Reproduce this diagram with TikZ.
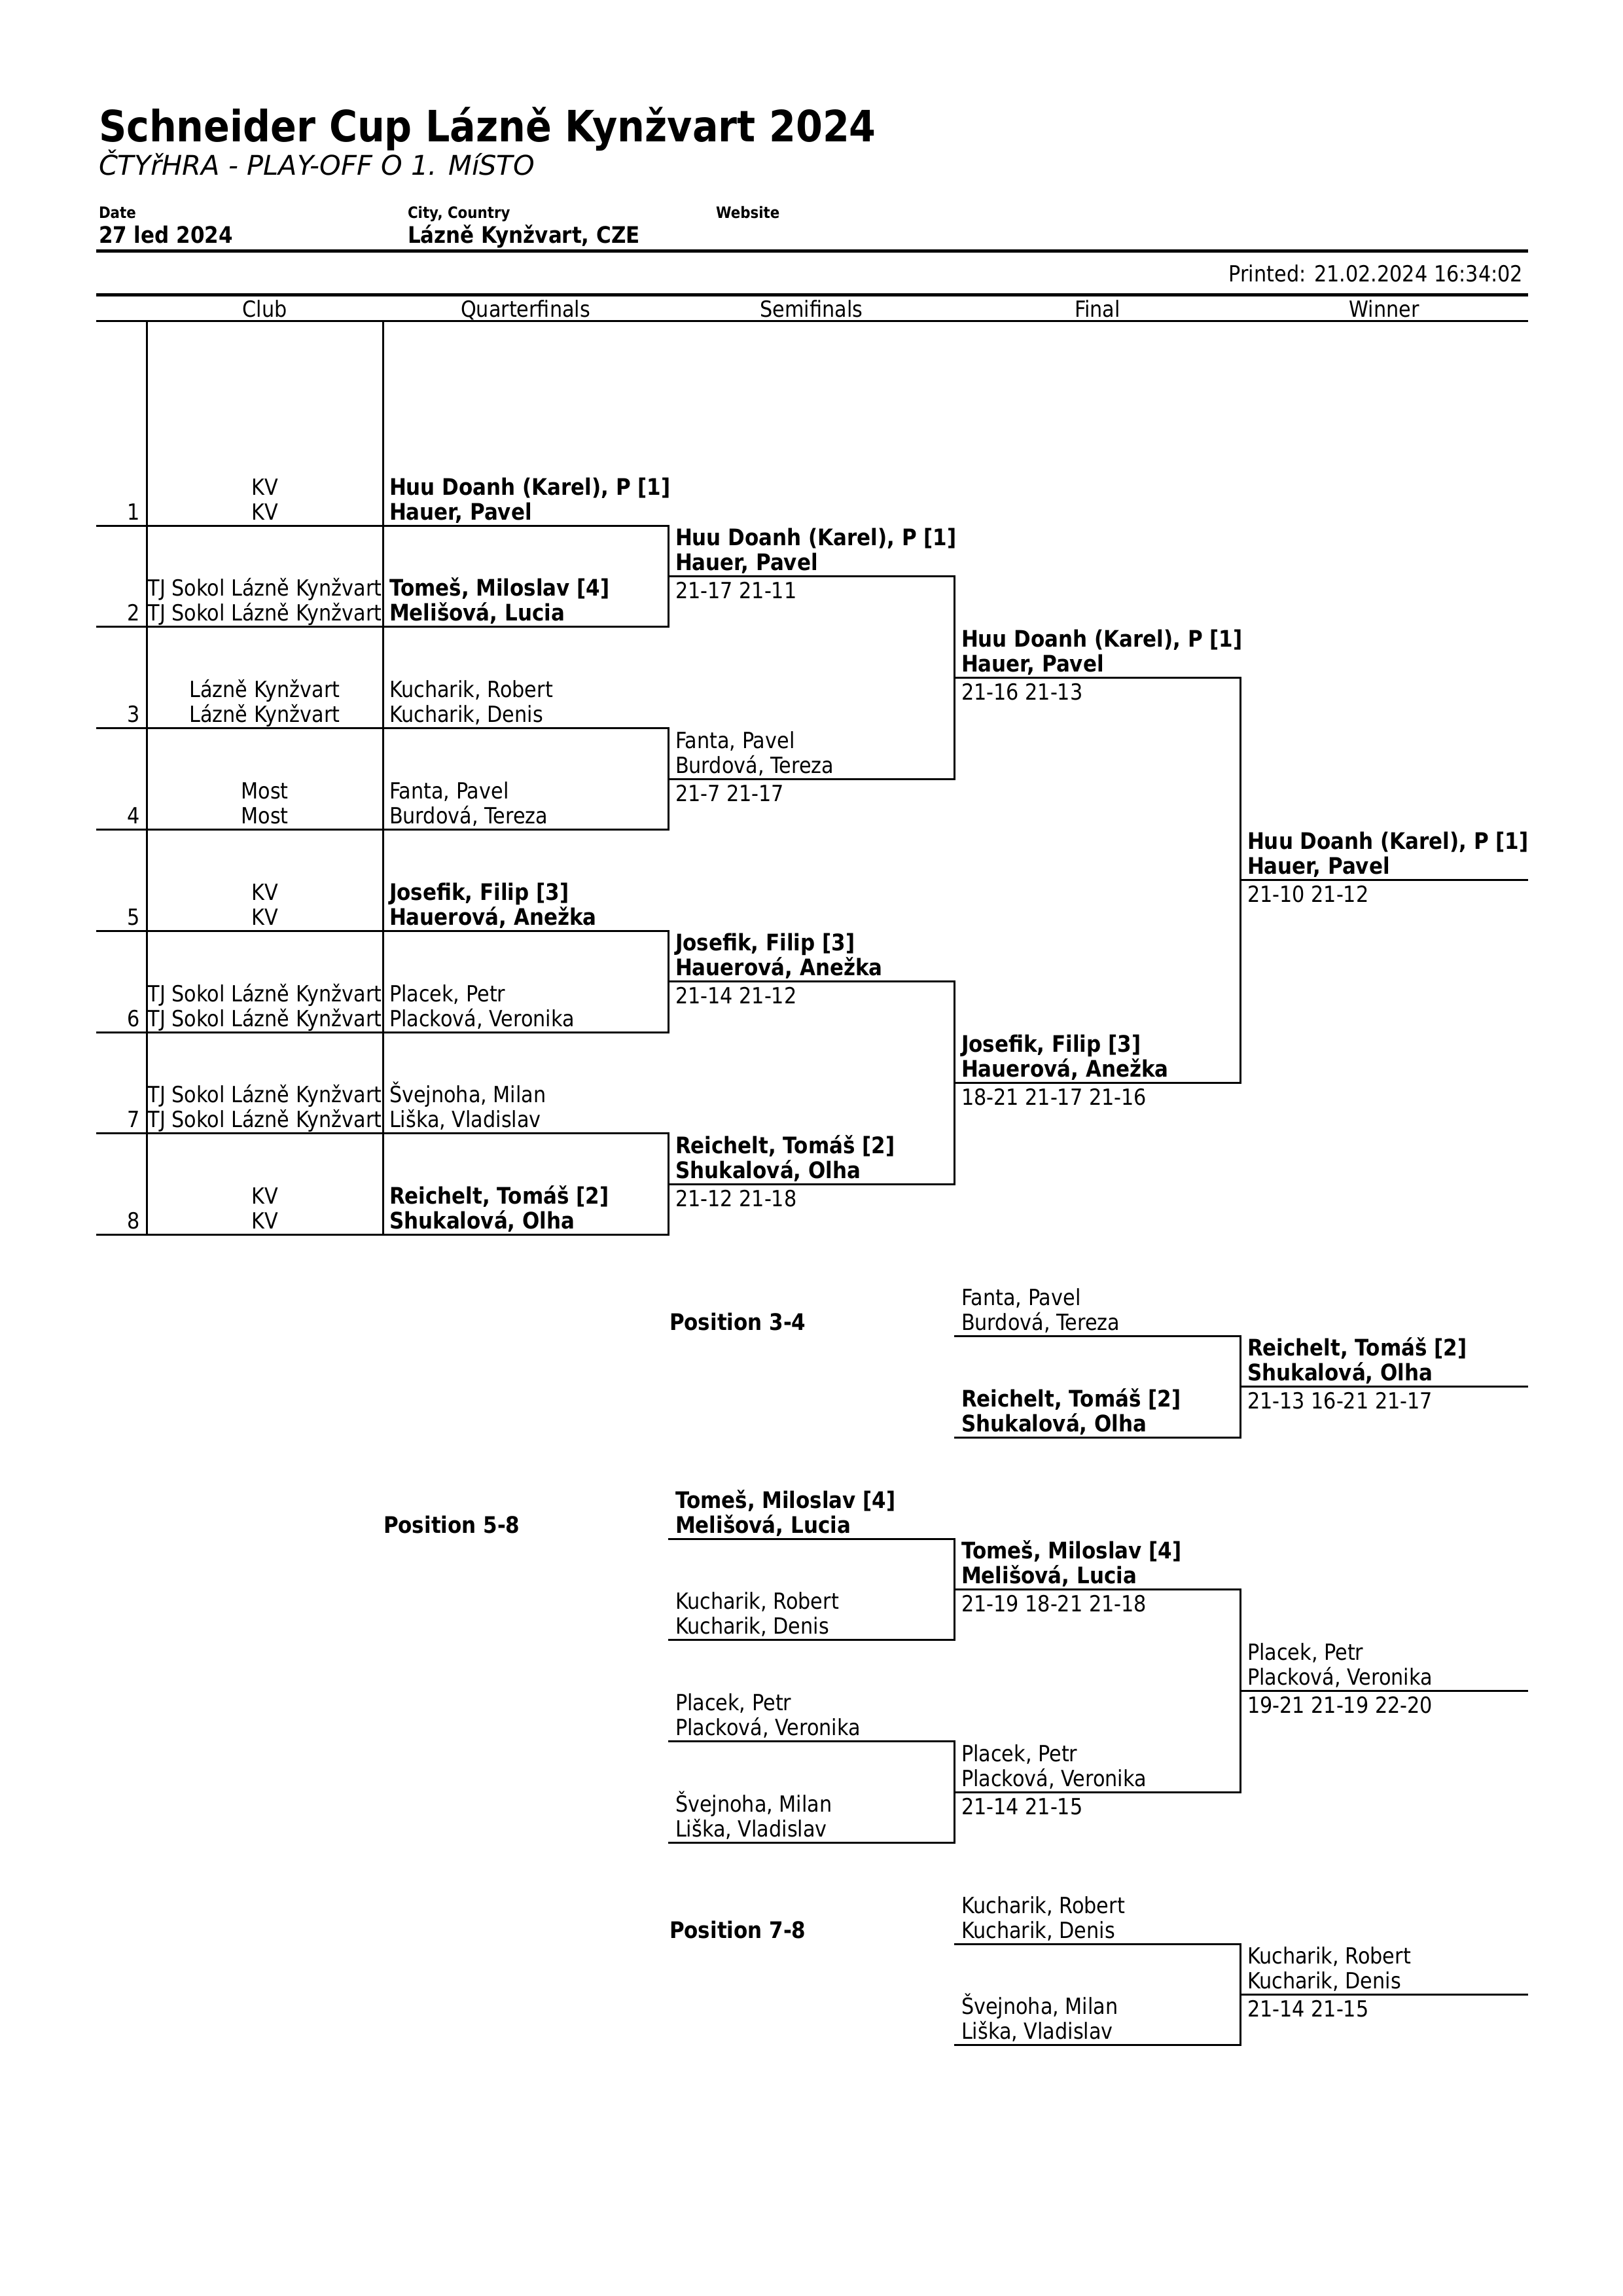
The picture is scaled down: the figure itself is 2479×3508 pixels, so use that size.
\documentclass[tikz,border=0pt]{standalone}
\usepackage{fontspec}
\setmainfont[FakeStretch=0.89]{DejaVu Sans}
\newfontfamily\subfont{DejaVu Sans}
\newcommand\pairtxt[6]{% prefix, x, liney, style, line1, line2
  \node[#4, anchor=base west] (#1a) at (#2,#3-47) {#5};
  \node[#4, anchor=base west] (#1b) at (#2,#3-9) {#6};}
\newcommand\scoretxt[4]{% name, x, liney, text
  \node[txt, anchor=base west] (#1) at (#2,#3+34) {#4};}
\newcommand\entryrow[6]{% idx, liney, club, style, n1, n2
  \node[txt, anchor=base east] (num#1) at (214,#2-9) {#1};
  \node[txt, anchor=base] (clubA#1) at (404.5,#2-47) {#3};
  \node[txt, anchor=base] (clubB#1) at (404.5,#2-9) {#3};
  \pairtxt{qf#1}{595}{#2}{#4}{#5}{#6}}
\begin{document}
\begin{tikzpicture}[x=1pt,y=-1pt,
  txt/.style={font=\fontsize{34}{40}\selectfont, inner sep=0pt, outer sep=0pt},
  btxt/.style={txt, font=\fontsize{34.8}{40}\selectfont\bfseries},
  lbl/.style={inner sep=0pt, outer sep=0pt, font=\fontsize{24}{28}\selectfont\bfseries},
  rule/.style={line width=3pt},
  heavyrule/.style={line width=5pt}]
\useasboundingbox (0,0) rectangle (2479,3508);
\fill[white] (0,0) rectangle (2479,3508);

% ---------- header ----------
\node[inner sep=0pt, outer sep=0pt, anchor=base west, font=\fontsize{66}{72}\selectfont\bfseries] (title) at (151,217) {Schneider Cup Lázně Kynžvart 2024};
\node[inner sep=0pt, outer sep=0pt, anchor=base west, font=\subfont\itshape\fontsize{41.5}{46}\selectfont] (subtitle) at (151,268) {ČTYřHRA - PLAY-OFF O 1. MíSTO};
\node[lbl, anchor=base west] (datelbl) at (151,333) {Date};
\node[lbl, anchor=base west] (citylbl) at (623,333) {City, Country};
\node[lbl, anchor=base west] (weblbl) at (1094,333) {Website};
\node[btxt, anchor=base west] (dateval) at (151,371) {27 led 2024};
\node[btxt, anchor=base west] (cityval) at (623,371) {Lázně Kynžvart, CZE};
\draw[heavyrule] (147,383) -- (2335,383);
\node[txt, anchor=base east] (printed) at (2327,430) {Printed: 21.02.2024 16:34:02};
\draw[heavyrule] (147,450) -- (2335,450);
\node[txt, anchor=base] (hclub) at (404.5,484) {Club};
\node[txt, anchor=base] (hqf) at (803,484) {Quarterfinals};
\node[txt, anchor=base] (hsf) at (1240,484) {Semifinals};
\node[txt, anchor=base] (hf) at (1677,484) {Final};
\node[txt, anchor=base] (hw) at (2115,484) {Winner};
\draw[rule] (147,490) -- (2335,490);

% ---------- main bracket lines ----------
\draw[rule] (224,490) -- (224,1886.6);
\draw[rule] (585,490) -- (585,1886.6);
\draw[rule] (147,803) -- (1021,803) -- (1021,957.8) -- (147,957.8);
\draw[rule] (147,1112.6) -- (1021,1112.6) -- (1021,1267.4) -- (147,1267.4);
\draw[rule] (147,1422.2) -- (1021,1422.2) -- (1021,1577) -- (147,1577);
\draw[rule] (147,1731.8) -- (1021,1731.8) -- (1021,1886.6) -- (147,1886.6);
\draw[rule] (1021,880.4) -- (1458,880.4) -- (1458,1190) -- (1021,1190);
\draw[rule] (1021,1499.6) -- (1458,1499.6) -- (1458,1809.2) -- (1021,1809.2);
\draw[rule] (1458,1035.2) -- (1895,1035.2) -- (1895,1654.4) -- (1458,1654.4);
\draw[rule] (1895,1344.8) -- (2335,1344.8);

% ---------- main bracket texts ----------
\entryrow{1}{803}{KV}{btxt}{Huu Doanh (Karel), P [1]}{Hauer, Pavel}
\entryrow{2}{957.8}{TJ Sokol Lázně Kynžvart}{btxt}{Tomeš, Miloslav [4]}{Melišová, Lucia}
\entryrow{3}{1112.6}{Lázně Kynžvart}{txt}{Kucharik, Robert}{Kucharik, Denis}
\entryrow{4}{1267.4}{Most}{txt}{Fanta, Pavel}{Burdová, Tereza}
\entryrow{5}{1422.2}{KV}{btxt}{Josefik, Filip [3]}{Hauerová, Anežka}
\entryrow{6}{1577}{TJ Sokol Lázně Kynžvart}{txt}{Placek, Petr}{Placková, Veronika}
\entryrow{7}{1731.8}{TJ Sokol Lázně Kynžvart}{txt}{Švejnoha, Milan}{Liška, Vladislav}
\entryrow{8}{1886.6}{KV}{btxt}{Reichelt, Tomáš [2]}{Shukalová, Olha}

\pairtxt{sf1}{1032}{880.4}{btxt}{Huu Doanh (Karel), P [1]}{Hauer, Pavel}
\scoretxt{sf1s}{1032}{880.4}{21-17 21-11}
\pairtxt{sf2}{1032}{1190}{txt}{Fanta, Pavel}{Burdová, Tereza}
\scoretxt{sf2s}{1032}{1190}{21-7 21-17}
\pairtxt{sf3}{1032}{1499.6}{btxt}{Josefik, Filip [3]}{Hauerová, Anežka}
\scoretxt{sf3s}{1032}{1499.6}{21-14 21-12}
\pairtxt{sf4}{1032}{1809.2}{btxt}{Reichelt, Tomáš [2]}{Shukalová, Olha}
\scoretxt{sf4s}{1032}{1809.2}{21-12 21-18}

\pairtxt{f1}{1469}{1035.2}{btxt}{Huu Doanh (Karel), P [1]}{Hauer, Pavel}
\scoretxt{f1s}{1469}{1035.2}{21-16 21-13}
\pairtxt{f2}{1469}{1654.4}{btxt}{Josefik, Filip [3]}{Hauerová, Anežka}
\scoretxt{f2s}{1469}{1654.4}{18-21 21-17 21-16}

\pairtxt{w}{1906}{1344.8}{btxt}{Huu Doanh (Karel), P [1]}{Hauer, Pavel}
\scoretxt{ws}{1906}{1344.8}{21-10 21-12}

% ---------- Position 3-4 ----------
\node[btxt, anchor=base west] (pos34) at (1023,2032.4) {Position 3-4};
\draw[rule] (1458,2041.4) -- (1895,2041.4) -- (1895,2196.2) -- (1458,2196.2);
\draw[rule] (1895,2118.8) -- (2335,2118.8);
\pairtxt{pa1}{1469}{2041.4}{txt}{Fanta, Pavel}{Burdová, Tereza}
\pairtxt{pa2}{1469}{2196.2}{btxt}{Reichelt, Tomáš [2]}{Shukalová, Olha}
\pairtxt{paw}{1906}{2118.8}{btxt}{Reichelt, Tomáš [2]}{Shukalová, Olha}
\scoretxt{paws}{1906}{2118.8}{21-13 16-21 21-17}

% ---------- Position 5-8 ----------
\node[btxt, anchor=base west] (pos58) at (586,2342) {Position 5-8};
\draw[rule] (1021,2351) -- (1458,2351) -- (1458,2505.8) -- (1021,2505.8);
\draw[rule] (1021,2660.6) -- (1458,2660.6) -- (1458,2815.4) -- (1021,2815.4);
\draw[rule] (1458,2428.4) -- (1895,2428.4) -- (1895,2738) -- (1458,2738);
\draw[rule] (1895,2583.2) -- (2335,2583.2);
\pairtxt{pb1}{1032}{2351}{btxt}{Tomeš, Miloslav [4]}{Melišová, Lucia}
\pairtxt{pb2}{1032}{2505.8}{txt}{Kucharik, Robert}{Kucharik, Denis}
\pairtxt{pb3}{1032}{2660.6}{txt}{Placek, Petr}{Placková, Veronika}
\pairtxt{pb4}{1032}{2815.4}{txt}{Švejnoha, Milan}{Liška, Vladislav}
\pairtxt{pbs1}{1469}{2428.4}{btxt}{Tomeš, Miloslav [4]}{Melišová, Lucia}
\scoretxt{pbs1s}{1469}{2428.4}{21-19 18-21 21-18}
\pairtxt{pbs2}{1469}{2738}{txt}{Placek, Petr}{Placková, Veronika}
\scoretxt{pbs2s}{1469}{2738}{21-14 21-15}
\pairtxt{pbf}{1906}{2583.2}{txt}{Placek, Petr}{Placková, Veronika}
\scoretxt{pbfs}{1906}{2583.2}{19-21 21-19 22-20}

% ---------- Position 7-8 ----------
\node[btxt, anchor=base west] (pos78) at (1023,2961) {Position 7-8};
\draw[rule] (1458,2970) -- (1895,2970) -- (1895,3124.8) -- (1458,3124.8);
\draw[rule] (1895,3047.4) -- (2335,3047.4);
\pairtxt{pc1}{1469}{2970}{txt}{Kucharik, Robert}{Kucharik, Denis}
\pairtxt{pc2}{1469}{3124.8}{txt}{Švejnoha, Milan}{Liška, Vladislav}
\pairtxt{pcw}{1906}{3047.4}{txt}{Kucharik, Robert}{Kucharik, Denis}
\scoretxt{pcws}{1906}{3047.4}{21-14 21-15}
\end{tikzpicture}
\end{document}
